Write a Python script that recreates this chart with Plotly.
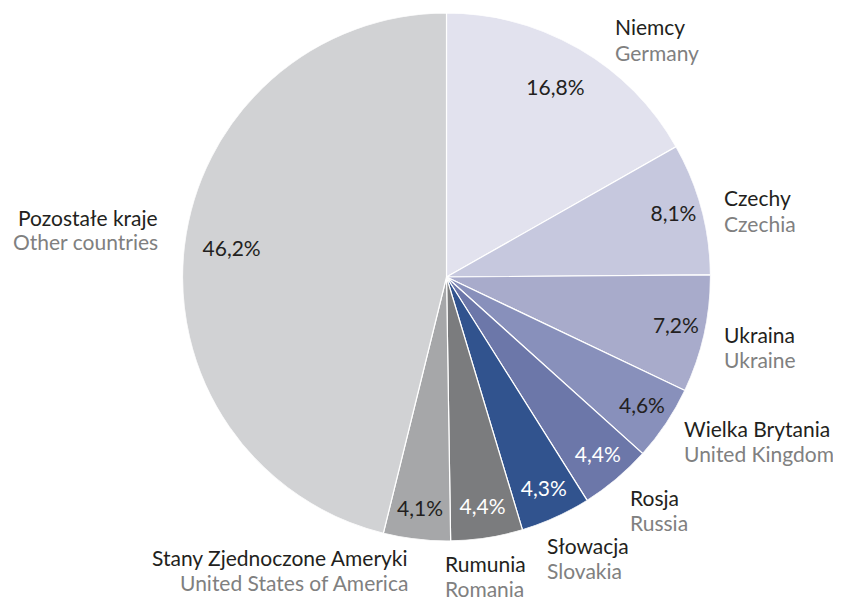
import plotly.graph_objects as go

labels_pl = ["Niemcy", "Czechy", "Ukraina", "Wielka Brytania", "Rosja", "Słowacja",
             "Rumunia", "Stany Zjednoczone Ameryki", "Pozostałe kraje"]
labels_en = ["Germany", "Czechia", "Ukraine", "United Kingdom", "Russia", "Slovakia",
             "Romania", "United States of America", "Other countries"]
values = [16.8, 8.1, 7.2, 4.6, 4.4, 4.3, 4.4, 4.1, 46.2]
colors = ["#e2e2ee", "#c6c8de", "#a8abcb", "#8890bb", "#6c77a9", "#31538e",
          "#7b7c7e", "#a6a7a9", "#d1d2d4"]
pct_colors = ["#231f20", "#231f20", "#231f20", "#231f20", "#ffffff", "#ffffff",
              "#ffffff", "#231f20", "#231f20"]

# page body has an 8px margin: work in screen pixels, convert to figure pixels
OFF = 8
W, H = 841 - OFF, 597 - OFF
FONT = "Lato"
CX, CY, R = 446.5 - OFF, 277 - OFF, 264

texts = [f"{v:.1f}".replace(".", ",") + "%" for v in values]

dom = dict(x=[(CX - R) / W, (CX + R) / W],
           y=[(H - CY - R) / H, (H - CY + R) / H])

total = sum(values)
theta, widths, cum = [], [], 0.0
for v in values:
    theta.append((cum + v / 2) / total * 360)
    widths.append(v / total * 360)
    cum += v

fig = go.Figure()
# pie slices drawn as polar bars (angular scale of the polar subplot)
fig.add_trace(go.Barpolar(
    r=[1] * len(values), theta=theta, width=widths, base=0,
    marker=dict(color=colors, line=dict(color="white", width=1.2)),
    text=labels_en, hoverinfo="text", showlegend=False,
))

radii = [0.82 if v > 10 else 0.89 for v in values]
fig.add_trace(go.Scatterpolar(
    r=radii, theta=theta, mode="text", text=texts,
    textfont=dict(family=FONT, size=21, color=pct_colors),
    showlegend=False, hoverinfo="skip",
))

fig.update_layout(
    polar=dict(
        domain=dom,
        bgcolor="rgba(0,0,0,0)",
        hole=0,
        bargap=0,
        radialaxis=dict(range=[0, 1], visible=False, showgrid=False),
        angularaxis=dict(rotation=90, direction="clockwise", visible=False,
                         showgrid=False),
    )
)

# outer label anchors (screen pixels): x, vertical centre of the first line, alignment
label_pos = [
    (613, 27, "left"),
    (722, 198, "left"),
    (722, 334, "left"),
    (682, 428, "left"),
    (628, 497, "left"),
    (545, 545, "left"),
    (443, 563, "left"),
    (410, 557, "right"),
    (160, 217, "right"),
]
LINE = 25

for (x, y, al), pl, en in zip(label_pos, labels_pl, labels_en):
    for txt, dy, col in ((pl, 0, "#231f20"), (en, LINE, "#808080")):
        fig.add_annotation(
            x=(x - OFF) / W, y=1 - (y + dy - OFF) / H, xref="paper", yref="paper",
            xanchor=al, yanchor="middle", align=al, showarrow=False,
            text=txt, font=dict(family=FONT, size=21, color=col),
        )

fig.update_layout(
    width=W, height=H,
    margin=dict(l=0, r=0, t=0, b=0),
    paper_bgcolor="white",
    plot_bgcolor="white",
    font=dict(family=FONT),
)

fig.write_html("out.html")
